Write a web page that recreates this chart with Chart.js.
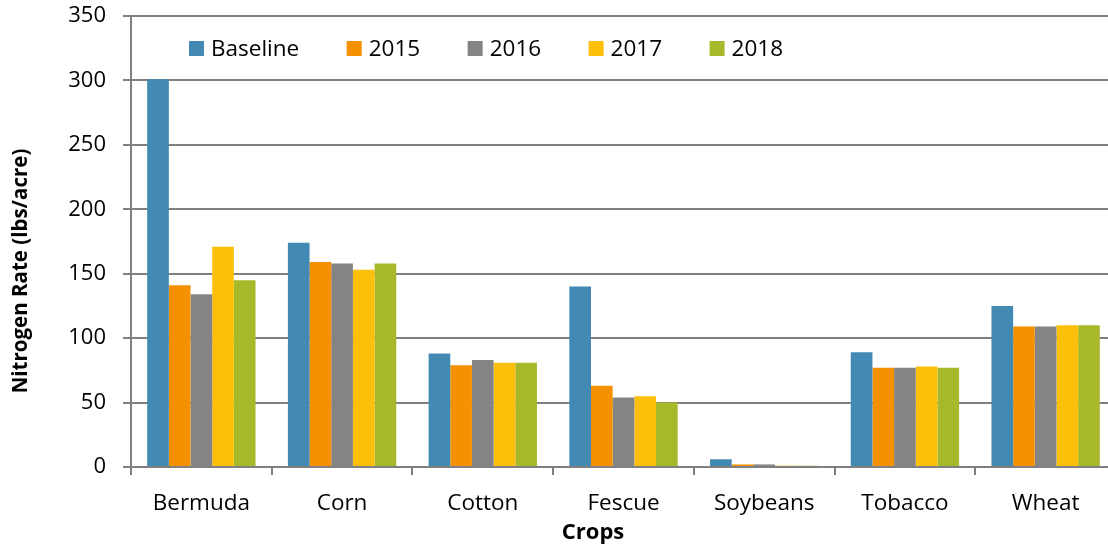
<!DOCTYPE html>
<html>
<head>
<meta charset="utf-8">
<script src="https://cdn.jsdelivr.net/npm/chart.js@4/dist/chart.umd.min.js"></script>
<style>
  html, body { margin: 0; padding: 0; background: #fff; overflow: hidden; }
  #wrap { width: 1118px; height: 550px; }
</style>
</head>
<body>
<div id="wrap"><canvas id="chart" width="1118" height="550"></canvas></div>
<script>
// Nitrogen rate by crop, baseline vs. yearly
const categories = ['Bermuda', 'Corn', 'Cotton', 'Fescue', 'Soybeans', 'Tobacco', 'Wheat'];
const seriesNames = ['Baseline', '2015', '2016', '2017', '2018'];
const baseline = [301, 174, 88, 140, 6, 89, 125];
const y2015    = [141, 159, 79, 63, 2, 77, 109];
const y2016    = [134, 158, 83, 54, 2, 77, 109];
const y2017    = [171, 153, 81, 55, 1, 78, 110];
const y2018    = [145, 158, 81, 50, 1, 77, 110];
const yTicks   = [0, 50, 100, 150, 200, 250, 300, 350];

const BLUE   = '#4289b3';
const ORANGE = '#f59100';
const GRAY   = '#848484';
const YELLOW = '#fdc00a';
const GREEN  = '#a8b82b';
const COLORS = [BLUE, ORANGE, GRAY, YELLOW, GREEN];

const AXIS = '#808080';
const FONT = "'Open Sans', sans-serif";

// legend drawn inside the plot, Excel style
const insideLegend = {
  id: 'insideLegend',
  afterDraw(chart) {
    const ctx = chart.ctx;
    ctx.save();
    ctx.font = `22.5px ${FONT}`;
    ctx.textBaseline = 'middle';
    ctx.textAlign = 'left';
    let x = 189;
    const cy = 48.5;
    chart.data.datasets.forEach(ds => {
      ctx.fillStyle = ds.backgroundColor;
      ctx.fillRect(x, cy - 7.5, 15, 15);
      ctx.fillStyle = '#000';
      ctx.fillText(ds.label, x + 22, cy + 1);
      x += 22 + ctx.measureText(ds.label).width + 47.5;
    });
    ctx.restore();
  }
};

// axis titles (offset like the original, not centred on the plot)
const axisTitles = {
  id: 'axisTitles',
  afterDraw(chart) {
    const ctx = chart.ctx;
    ctx.save();
    ctx.fillStyle = '#000';
    ctx.textAlign = 'center';
    ctx.textBaseline = 'middle';
    ctx.font = `bold 22px ${FONT}`;
    ctx.fillText('Crops', 593, 533);
    ctx.font = `bold 20.5px ${FONT}`;
    ctx.translate(21, 271);
    ctx.rotate(-Math.PI / 2);
    ctx.fillText('Nitrogen Rate (lbs/acre)', 0, 0);
    ctx.restore();
  }
};

const values = [baseline, y2015, y2016, y2017, y2018];

new Chart(document.getElementById('chart').getContext('2d'), {
  type: 'bar',
  data: {
    labels: categories,
    datasets: seriesNames.map((name, i) => ({
      label: name,
      data: values[i],
      backgroundColor: COLORS[i],
      borderWidth: 0,
      categoryPercentage: 0.77,
      barPercentage: 1.0,
    })),
  },
  options: {
    responsive: false,
    animation: false,
    devicePixelRatio: 1,
    layout: { padding: { left: 0, right: 2, top: 16, bottom: 0 } },
    plugins: {
      legend: { display: false },
      tooltip: { enabled: false },
    },
    scales: {
      x: {
        offset: true,
        grid: { display: true, drawOnChartArea: false, drawTicks: true, tickLength: 8, color: AXIS, lineWidth: 2, offset: true },
        border: { display: true, color: AXIS, width: 2 },
        ticks: { color: '#000', font: { family: FONT, size: 22.5 }, padding: 15, maxRotation: 0 },
        afterFit: s => { s.height = 83; },
      },
      y: {
        min: 0,
        max: 350,
        afterBuildTicks: s => { s.ticks = yTicks.map(v => ({ value: v })); },
        grid: { color: AXIS, lineWidth: 2, tickLength: 8, drawTicks: true },
        border: { display: true, color: AXIS, width: 2 },
        ticks: { color: '#000', font: { family: FONT, size: 22 }, padding: 17 },
        afterFit: s => { s.width = 131; s.paddingTop = 0; s.paddingBottom = 0; },
      },
    },
  },
  plugins: [insideLegend, axisTitles],
});
</script>
</body>
</html>
